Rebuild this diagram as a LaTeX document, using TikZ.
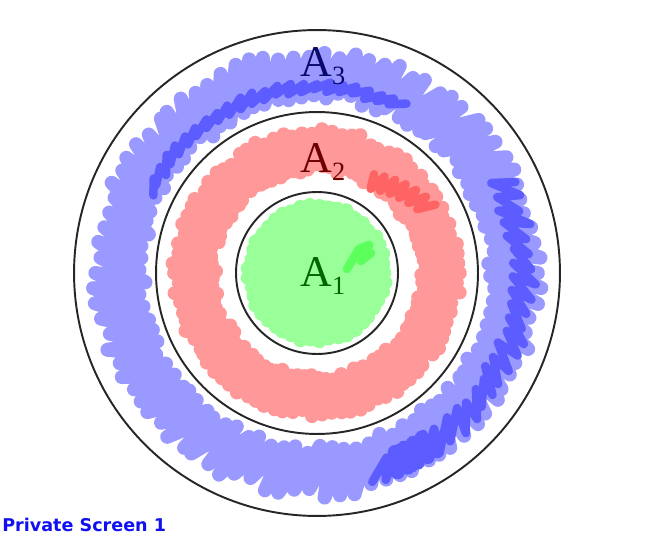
\documentclass[tikz,border=0pt]{standalone}
\usepackage{fontspec}
\usepackage{tikz}
\usetikzlibrary{calc}
\newfontfamily\labelfont{Liberation Serif}
\newfontfamily\tagfont{DejaVu Sans}
\definecolor{scrblue}{RGB}{153,153,255}
\definecolor{scrbluedk}{RGB}{92,92,255}
\definecolor{scrred}{RGB}{255,153,153}
\definecolor{scrreddk}{RGB}{255,100,100}
\definecolor{scrgreen}{RGB}{153,255,153}
\definecolor{scrgreendk}{RGB}{92,255,92}
\definecolor{lblblue}{RGB}{10,10,110}
\definecolor{lblred}{RGB}{110,0,0}
\definecolor{lblgreen}{RGB}{0,100,0}
\definecolor{tagblue}{RGB}{15,15,240}
\newcommand{\Aset}[1]{A\raisebox{-0.17em}{\fontsize{15}{16}\selectfont #1}}

\begin{document}
\begin{tikzpicture}[x=0.02cm, y=0.02cm,
    ring/.style={circle, draw=black!85, line width=1.1pt, inner sep=0pt, outer sep=0pt},
    scribble/.style={line width=0.28cm, line join=round, line cap=round},
    thinscribble/.style={line width=0.17cm, line join=round, line cap=round},
    setlabel/.style={font=\labelfont\fontsize{25}{30}\selectfont, inner sep=0pt, anchor=base west},
    tag/.style={font=\tagfont\bfseries\fontsize{10}{12}\selectfont, text=tagblue, inner sep=0pt, anchor=base west}
]
\useasboundingbox (0,0) rectangle (651,551);
\coordinate (c) at (317,278);
\pgfmathsetseed{42}

\draw[scribble, scrblue, shift={(c)}] plot[domain=0:180, samples=181]
    ({\x*2+5*mod(\x,2)}:{198+22*cos(mod(\x,2)*180)+10*rnd-5});
\draw[thinscribble, scrbluedk, shift={(c)}] plot[domain=0:45, samples=46]
    ({62+\x*2+3*mod(\x,2)}:{186+4*cos(mod(\x,2)*180)+4*rnd-2});
\draw[thinscribble, scrbluedk, shift={(c)}] plot[domain=0:50, samples=51]
    ({-75+\x*2+4*mod(\x,2)}:{205+10*cos(mod(\x,2)*180)+8*rnd-4});
\draw[scribble, scrbluedk, shift={(c)}] plot[domain=0:8, samples=9]
    ({-68+\x*1.5}:{205+10*cos(mod(\x,2)*180)});

\draw[scribble, scrred, shift={(c)}] plot[domain=0:180, samples=181]
    ({\x*2+5*mod(\x,2)}:{123+18*cos(mod(\x,2)*180)+8*rnd-4});
\draw[thinscribble, scrreddk, shift={(c)}] plot[domain=0:12, samples=13]
    ({60-\x*2.5}:{106+\x*1.9+8*cos(mod(\x,2)*180)});

\filldraw[scribble, scrgreen, shift={(c)}] plot[domain=0:90, samples=91]
    ({\x*4}:{66+2*cos(mod(\x,2)*180)+4*rnd-2}) -- cycle;
\draw[thinscribble, scrgreendk, shift={(c)}] (30,4) -- (42,24) -- (52,28) -- (44,12) -- (54,20);

\node[ring, minimum size=3.24cm] (inner) at (c) {};
\node[ring, minimum size=6.44cm] (middle) at (c) {};
\node[ring, minimum size=9.72cm] (outer) at (c) {};

\node[setlabel, text=lblblue] (a3) at (300,474) {\Aset{3}};
\node[setlabel, text=lblred] (a2) at (300,378) {\Aset{2}};
\node[setlabel, text=lblgreen] (a1) at (300,264) {\Aset{1}};

\node[tag] (screen) at (2,20) {Private Screen 1};
\end{tikzpicture}
\end{document}
